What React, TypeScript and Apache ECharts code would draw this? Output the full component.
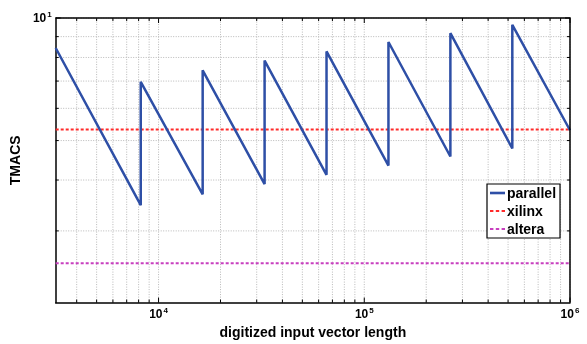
import React, { useEffect, useRef } from "react";
import * as echarts from "echarts";

// Data
const parallelX = [3162.28, 8192, 8192, 16384, 16384, 32768, 32768, 65536, 65536, 131072, 131072, 262144, 262144, 524288, 524288, 1000000];
const parallelY = [8.44, 3.47, 6.97, 3.69, 7.44, 3.91, 7.86, 4.12, 8.28, 4.34, 8.73, 4.57, 9.18, 4.78, 9.62, 5.3];
const xilinxValue = 5.32;
const alteraValue = 2.5;
const xRange = [3162.28, 1000000];
const yRange = [2, 10];
const xMajorTicks = [10000, 100000, 1000000];
const xMinorTicks = [4000, 5000, 6000, 7000, 8000, 9000, 20000, 30000, 40000, 50000, 60000, 70000, 80000, 90000, 200000, 300000, 400000, 500000, 600000, 700000, 800000, 900000];
const yMinorTicks = [3, 4, 5, 6, 7, 8, 9];
const yMajorTicks = [10];

const isPow10 = (v: number) => Math.abs(Math.log10(v) - Math.round(Math.log10(v))) < 1e-6;

const solidIcon = "path://M0,0h15v2.6h-15z";
const dashIcon = "path://M0,0h3.4v2h-3.4z M5.8,0h3.4v2h-3.4z M11.6,0h3.4v2h-3.4z";

export default function App() {
  const ref = useRef<HTMLDivElement>(null);
  useEffect(() => {
    if (!ref.current) return;
    const chart = echarts.init(ref.current, undefined, { renderer: "svg" });
    const font = "Liberation Sans";
    const gridColor = "#b8b8b8";
    const xGridData = [...xMinorTicks.map((v) => [v, 0]), ...xMajorTicks.map((v) => [v, 1])];
    const yGridData = [...yMinorTicks.map((v) => [v, 0]), ...yMajorTicks.map((v) => [v, 1])];
    const richLabel = {
      b: { fontFamily: font, fontWeight: "bold", fontSize: 12, color: "#000" },
      s: { fontFamily: font, fontWeight: "bold", fontSize: 8, color: "#000", verticalAlign: "top", padding: [0, 0, 7, 1] },
    };
    const fmt = (v: number) => (isPow10(v) ? `{b|10}{s|${Math.round(Math.log10(v))}}` : "");
    chart.setOption({
      animation: false,
      grid: { left: 55, right: 17, top: 18, bottom: 38, containLabel: false },
      xAxis: {
        type: "log",
        logBase: 10,
        min: xRange[0],
        max: xRange[1],
        name: "digitized input vector length",
        nameLocation: "middle",
        nameGap: 20,
        nameTextStyle: { fontFamily: font, fontWeight: "bold", fontSize: 14, color: "#000" },
        axisLine: { show: true, lineStyle: { color: "#000", width: 1.5 } },
        axisTick: { show: false },
        splitLine: { show: false },
        axisLabel: { formatter: fmt, rich: richLabel, margin: 4, showMinLabel: true, hideOverlap: false },
      },
      yAxis: {
        type: "log",
        logBase: 10,
        min: yRange[0],
        max: yRange[1],
        name: "TMACS",
        nameLocation: "middle",
        nameGap: 27,
        nameRotate: 90,
        nameTextStyle: { fontFamily: font, fontWeight: "bold", fontSize: 14, color: "#000" },
        axisLine: { show: true, lineStyle: { color: "#000", width: 1.5 } },
        axisTick: { show: false },
        splitLine: { show: false },
        axisLabel: { formatter: fmt, rich: richLabel, margin: 4 },
      },
      legend: {
        orient: "vertical",
        left: 487,
        top: 184,
        data: [
          { name: "parallel", icon: solidIcon },
          { name: "xilinx", icon: dashIcon },
          { name: "altera", icon: dashIcon },
        ],
        backgroundColor: "#fff",
        borderColor: "#000",
        borderWidth: 1.2,
        padding: [2, 4, 2, 3],
        itemGap: 4,
        itemWidth: 15,
        itemHeight: 14,
        textStyle: { fontFamily: font, fontWeight: "bold", fontSize: 14, color: "#000", padding: [0, 0, 0, -3] },
      },
      series: [
        {
          type: "custom",
          name: "xgrid",
          silent: true,
          z: 0,
          data: xGridData,
          encode: { x: 0 },
          renderItem: (params: any, api: any) => {
            const x = api.value(0);
            const major = api.value(1) === 1;
            const p0 = api.coord([x, yRange[0]]);
            const p1 = api.coord([x, yRange[1]]);
            const len = major ? 5 : 3;
            return {
              type: "group",
              children: [
                { type: "line", shape: { x1: p0[0], y1: p0[1], x2: p1[0], y2: p1[1] }, style: { stroke: gridColor, lineWidth: 1, lineDash: [1, 1.5] } },
                { type: "line", shape: { x1: p0[0], y1: p0[1], x2: p0[0], y2: p0[1] - len }, style: { stroke: "#000", lineWidth: 1 } },
                { type: "line", shape: { x1: p1[0], y1: p1[1], x2: p1[0], y2: p1[1] + len }, style: { stroke: "#000", lineWidth: 1 } },
              ],
            };
          },
        },
        {
          type: "custom",
          name: "ygrid",
          silent: true,
          z: 0,
          data: yGridData.map((d) => [xRange[0], d[0], d[1]]),
          encode: { x: 0, y: 1 },
          renderItem: (params: any, api: any) => {
            const y = api.value(1);
            const major = api.value(2) === 1;
            const p0 = api.coord([xRange[0], y]);
            const p1 = api.coord([xRange[1], y]);
            const len = major ? 5 : 3;
            return {
              type: "group",
              children: [
                { type: "line", shape: { x1: p0[0], y1: p0[1], x2: p1[0], y2: p1[1] }, style: { stroke: gridColor, lineWidth: 1, lineDash: [1, 1.5] } },
                { type: "line", shape: { x1: p0[0], y1: p0[1], x2: p0[0] + len, y2: p0[1] }, style: { stroke: "#000", lineWidth: 1 } },
                { type: "line", shape: { x1: p1[0], y1: p1[1], x2: p1[0] - len, y2: p1[1] }, style: { stroke: "#000", lineWidth: 1 } },
              ],
            };
          },
        },
        {
          type: "custom",
          name: "frame",
          silent: true,
          z: 5,
          data: [[xRange[0], yRange[0]]],
          encode: { x: 0, y: 1 },
          renderItem: (params: any, api: any) => {
            const a = api.coord([xRange[0], yRange[1]]);
            const b = api.coord([xRange[1], yRange[0]]);
            return {
              type: "polyline",
              shape: { points: [[a[0], a[1]], [b[0], a[1]], [b[0], b[1]]] },
              style: { stroke: "#000", lineWidth: 1.5, fill: "none" },
            };
          },
        },
        {
          type: "line",
          name: "parallel",
          z: 3,
          symbol: "none",
          data: parallelX.map((x, i) => [x, parallelY[i]]),
          lineStyle: { color: "#2e4fa6", width: 2.5 },
          itemStyle: { color: "#2e4fa6" },
        },
        {
          type: "line",
          name: "xilinx",
          z: 2,
          symbol: "none",
          data: [[xRange[0], xilinxValue], [xRange[1], xilinxValue]],
          lineStyle: { color: "#ff2a2a", width: 2, type: [3, 2] },
          itemStyle: { color: "#ff2a2a" },
        },
        {
          type: "line",
          name: "altera",
          z: 2,
          symbol: "none",
          data: [[xRange[0], alteraValue], [xRange[1], alteraValue]],
          lineStyle: { color: "#c83fbf", width: 2, type: [3, 2] },
          itemStyle: { color: "#c83fbf" },
        },
      ],
    });
    return () => chart.dispose();
  }, []);
  return <div ref={ref} style={{ position: "fixed", left: 0, top: 0, width: 587, height: 344 }} />;
}
